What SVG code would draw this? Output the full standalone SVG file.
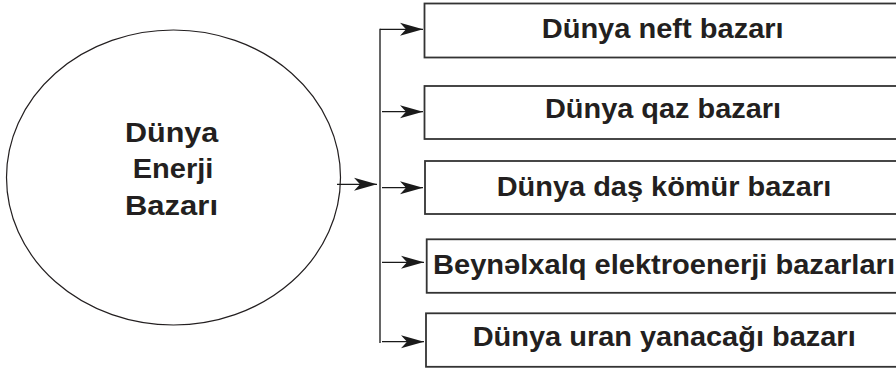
<svg xmlns="http://www.w3.org/2000/svg" width="896" height="371" viewBox="0 0 896 371">
<defs>
<marker id="ah" markerUnits="userSpaceOnUse" markerWidth="26" markerHeight="16" viewBox="-24 -8 26 16" refX="0" refY="0" orient="auto">
<path d="M0,0 L-23,-6.5 L-17,0 L-23,6.5 Z" fill="#1a1a1a"/>
</marker>
</defs>
<style>
.box{fill:#fff;stroke:#333;stroke-width:1.8}
.t{font-family:"Liberation Sans",Arial,sans-serif;font-weight:bold;font-size:28px;fill:#231f20}
.ln{stroke:#333;stroke-width:1.5;fill:none}
.ar{stroke:#1a1a1a;stroke-width:1.3;fill:none;marker-end:url(#ah)}
</style>
<rect width="896" height="371" fill="#fff"/>
<g id="center">
<ellipse cx="173.5" cy="177.5" rx="167" ry="147.5" fill="#fff" stroke="#231f20" stroke-width="1.2"/>
<text class="t" x="125" y="141.5" textLength="93.3" lengthAdjust="spacingAndGlyphs">Dünya</text>
<text class="t" x="132.7" y="178" textLength="80.7" lengthAdjust="spacingAndGlyphs">Enerji</text>
<text class="t" x="125" y="214.5" textLength="93" lengthAdjust="spacingAndGlyphs">Bazarı</text>
</g>
<g id="n1">
<rect class="box" x="424.5" y="3.5" width="480" height="54"/>
<text class="t" x="541.7" y="37.7" textLength="242" lengthAdjust="spacingAndGlyphs">Dünya neft bazarı</text>
</g>
<g id="n2">
<rect class="box" x="424.5" y="86" width="480" height="53"/>
<text class="t" x="545" y="118.3" textLength="236" lengthAdjust="spacingAndGlyphs">Dünya qaz bazarı</text>
</g>
<g id="n3">
<rect class="box" x="425" y="161" width="480" height="53"/>
<text class="t" x="496.7" y="196" textLength="334.5" lengthAdjust="spacingAndGlyphs">Dünya daş kömür bazarı</text>
</g>
<g id="n4">
<rect class="box" x="426.7" y="239.3" width="480" height="53.5"/>
<text class="t" x="433" y="274" textLength="462" lengthAdjust="spacingAndGlyphs">Beynəlxalq elektroenerji bazarları</text>
</g>
<g id="n5">
<rect class="box" x="426" y="313.3" width="480" height="53.5"/>
<text class="t" x="472.7" y="346" textLength="383" lengthAdjust="spacingAndGlyphs">Dünya uran yanacağı bazarı</text>
</g>
<g id="connectors">
<path class="ln" d="M380,28.8 V343"/>
<path class="ar" d="M337,184.3 H377"/>
<path class="ar" d="M380,29.3 H423"/>
<path class="ar" d="M382,111.7 H423"/>
<path class="ar" d="M382,187.7 H423"/>
<path class="ar" d="M382,262.3 H424"/>
<path class="ar" d="M382,341.7 H424"/>
</g>
</svg>
